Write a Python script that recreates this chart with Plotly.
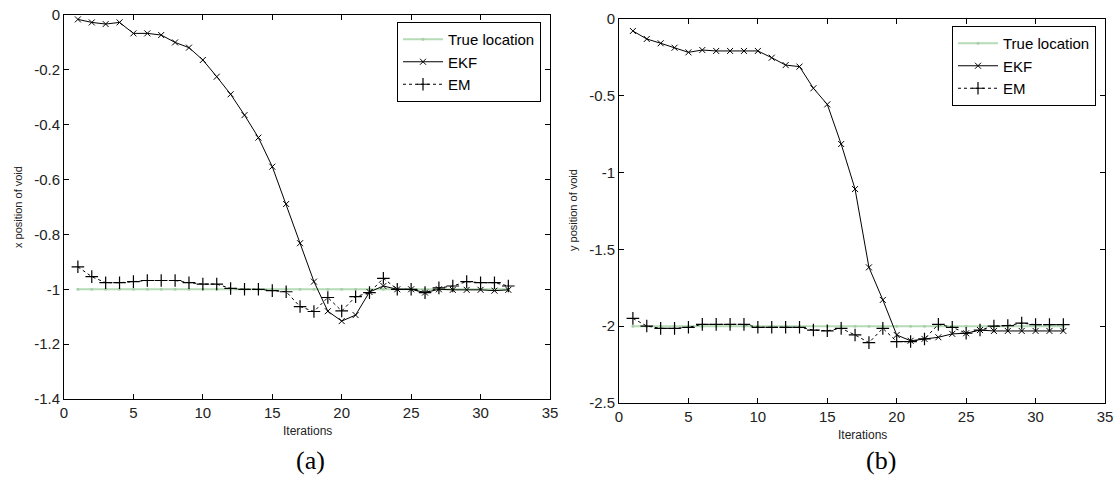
import plotly.graph_objects as go

iters = list(range(1, 33))

# (a) x position of void
true_x = [-1.0] * 32
ekf_x = [-0.016, -0.027, -0.033, -0.027, -0.067, -0.067, -0.073, -0.100, -0.119, -0.164,
         -0.225, -0.289, -0.365, -0.447, -0.553, -0.689, -0.832, -0.972, -1.080, -1.116,
         -1.094, -1.010, -0.988, -1.000, -1.000, -1.012, -1.000, -1.002, -1.002, -1.002,
         -1.005, -1.002]
em_x = [-0.918, -0.954, -0.976, -0.976, -0.972, -0.968, -0.968, -0.968, -0.976, -0.981,
        -0.981, -0.997, -1.000, -1.000, -1.005, -1.009, -1.063, -1.081, -1.030, -1.079,
        -1.027, -1.012, -0.960, -1.000, -1.000, -1.012, -0.995, -0.988, -0.972, -0.976,
        -0.976, -0.988]

# (b) y position of void
true_y = [-2.0] * 32
ekf_y = [-0.078, -0.130, -0.158, -0.187, -0.217, -0.202, -0.208, -0.208, -0.208, -0.208,
         -0.252, -0.300, -0.310, -0.451, -0.556, -0.814, -1.107, -1.617, -1.829, -2.057,
         -2.095, -2.083, -2.072, -2.050, -2.046, -2.025, -2.031, -2.031, -2.031, -2.031,
         -2.031, -2.031]
em_y = [-1.949, -1.999, -2.014, -2.014, -2.007, -1.988, -1.988, -1.988, -1.988, -2.007,
        -2.007, -2.007, -2.007, -2.025, -2.030, -2.014, -2.057, -2.107, -2.014, -2.100,
        -2.100, -2.083, -1.988, -2.007, -2.046, -2.025, -1.999, -1.996, -1.980, -1.990,
        -1.990, -1.990]

xticks = [0, 5, 10, 15, 20, 25, 30, 35]
yticks_a = [0, -0.2, -0.4, -0.6, -0.8, -1, -1.2, -1.4]
yticks_b = [0, -0.5, -1, -1.5, -2, -2.5]

GREEN = "#b6dbb6"
FONT = "Liberation Sans, Arial, sans-serif"

fig = go.Figure()

def add_series(xa, ya, tv, ev, mv, legend):
    fig.add_trace(go.Scatter(x=iters, y=tv, name="True location", mode="lines+markers",
                             line=dict(color=GREEN, width=2),
                             marker=dict(symbol="circle", size=3, color="#a9d0a9"),
                             xaxis=xa, yaxis=ya, legend=legend))
    fig.add_trace(go.Scatter(x=iters, y=ev, name="EKF", mode="lines+markers",
                             line=dict(color="black", width=1),
                             marker=dict(symbol="x-thin", size=6, line=dict(color="black", width=1)),
                             xaxis=xa, yaxis=ya, legend=legend))
    fig.add_trace(go.Scatter(x=iters, y=mv, name="EM", mode="lines+markers",
                             line=dict(color="black", width=1, dash="3px,3px"),
                             marker=dict(symbol="cross-thin", size=9, line=dict(color="black", width=1.2)),
                             xaxis=xa, yaxis=ya, legend=legend))

add_series("x", "y", true_x, ekf_x, em_x, "legend")
add_series("x2", "y2", true_y, ekf_y, em_y, "legend2")

axcommon = dict(showgrid=False, zeroline=False, showline=True, linecolor="black", linewidth=1,
                mirror="ticks", ticks="inside", ticklen=5, tickcolor="black", automargin=False,
                tickfont=dict(family=FONT, size=15, color="#222"))

legcommon = dict(xanchor="left", yanchor="top", bgcolor="white",
                 bordercolor="black", borderwidth=1, font=dict(family=FONT, size=15, color="black"),
                 tracegroupgap=0, itemwidth=40)

def ann(text, x, y, size, family=FONT, angle=0, color="#222"):
    return dict(text=text, x=x/1118, y=1-y/482, xref="paper", yref="paper",
                xanchor="center", yanchor="middle", textangle=angle, showarrow=False,
                font=dict(family=family, size=size, color=color))

SERIF = "Liberation Serif, Times New Roman, serif"

fig.update_layout(
    width=1118, height=482, margin=dict(l=0, r=0, t=0, b=0, autoexpand=False),
    paper_bgcolor="white", plot_bgcolor="white",
    xaxis=dict(domain=[64/1118, 550/1118], range=[0, 35], tickvals=xticks, anchor="y", **axcommon),
    yaxis=dict(domain=[1-399/482, 1-15/482], range=[-1.4, 0], tickvals=yticks_a,
               ticktext=["0", "-0.2", "-0.4", "-0.6", "-0.8", "-1", "-1.2", "-1.4"], anchor="x", **axcommon),
    xaxis2=dict(domain=[619/1118, 1105/1118], range=[0, 35], tickvals=xticks, anchor="y2", **axcommon),
    yaxis2=dict(domain=[1-403/482, 1-19/482], range=[-2.5, 0], tickvals=yticks_b,
                ticktext=["0", "-0.5", "-1", "-1.5", "-2", "-2.5"], anchor="x2", **axcommon),
    legend=dict(x=397/1118, y=1-22/482, **legcommon),
    legend2=dict(x=952/1118, y=1-26/482, **legcommon),
    annotations=[
        ann("x position of void", 18, 207, 11, angle=-90),
        ann("y position of void", 573, 210, 11, angle=-90),
        ann("Iterations", 307, 431, 12),
        ann("Iterations", 862, 435, 12),
        ann("(a)", 310, 460, 26, family=SERIF, color="black"),
        ann("(b)", 881, 460, 26, family=SERIF, color="black"),
    ],
)

fig.write_html("out.html")
